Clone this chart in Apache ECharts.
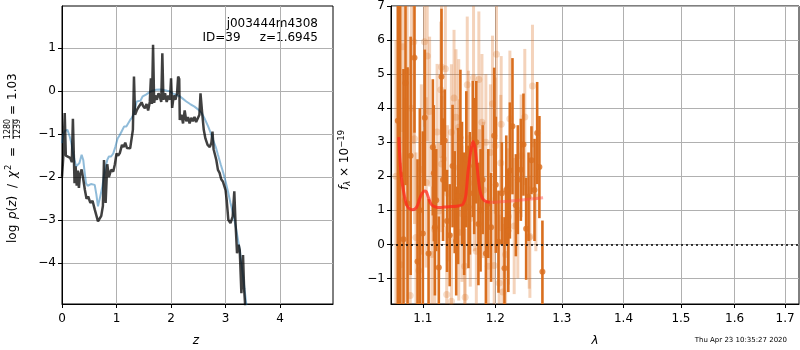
<!DOCTYPE html>
<html>
<head>
<meta charset="utf-8">
<script src="https://cdn.jsdelivr.net/npm/echarts@6/dist/echarts.min.js"></script>
<style>html,body{margin:0;padding:0;background:#fff}#c{width:800px;height:350px}</style>
</head>
<body>
<div id="c"></div>
<script>
// ---------- Left panel: log p(z) ----------
const zDark = [0,0.02,0.05,0.07,0.1,0.15,0.18,0.2,0.23,0.25,0.27,0.29,0.31,0.33,0.36,0.39,0.42,0.45,0.48,0.52,0.56,0.6,0.63,0.66,0.69,0.72,0.75,0.77,0.8,0.83,0.86,0.9,0.94,0.97,1.0,1.03,1.06,1.1,1.13,1.16,1.19,1.22,1.25,1.28,1.3,1.32,1.34,1.37,1.4,1.43,1.46,1.49,1.52,1.55,1.58,1.61,1.63,1.65,1.67,1.69,1.71,1.74,1.77,1.8,1.82,1.84,1.86,1.89,1.92,1.95,1.98,2.0,2.02,2.05,2.08,2.11,2.13,2.15,2.16,2.19,2.22,2.25,2.28,2.31,2.34,2.37,2.4,2.43,2.46,2.49,2.52,2.54,2.57,2.6,2.63,2.67,2.71,2.74,2.76,2.78,2.8,2.83,2.86,2.89,2.92,2.95,2.98,3.0,3.02,3.05,3.09,3.13,3.16,3.18,3.21,3.24,3.26,3.29,3.32,3.34,3.37];
const pDark = [-1.99,-1.6,-0.51,-1.5,-1.52,-1.55,-1.65,-0.64,-2.14,-1.75,-2.2,-1.85,-2.25,-1.95,-1.82,-2.05,-2.3,-2.5,-2.45,-2.6,-2.55,-2.75,-2.78,-3.03,-3.06,-2.9,-2.67,-1.6,-2.6,-1.7,-2.0,-1.83,-1.87,-1.7,-1.45,-1.5,-1.44,-1.25,-1.3,-1.2,-1.32,-1.28,-1.33,-1.3,-0.9,0.34,-0.55,-0.45,-0.38,-0.42,-0.26,-0.35,-0.4,-0.3,-0.45,-0.25,0.3,-0.3,1.08,-0.27,-0.1,-0.2,-0.05,-0.15,-0.25,0.88,-0.2,-0.05,-0.25,-0.1,-0.2,0.3,-0.39,-0.1,-0.2,-0.05,0.34,0.28,-0.67,-0.55,-0.75,-0.45,-0.7,-0.6,-0.75,-0.62,-0.7,-0.6,-0.72,-0.68,-0.55,-0.05,-0.5,-0.9,-1.1,-1.25,-1.3,-1.2,-0.94,-1.35,-1.45,-1.6,-1.83,-1.9,-2.05,-2.1,-2.14,-2.3,-2.53,-2.99,-3.07,-2.92,-2.33,-3.0,-3.77,-3.57,-3.7,-4.7,-3.81,-4.6,-5.2];
const zBlue = [0,0.03,0.06,0.1,0.14,0.17,0.2,0.23,0.26,0.29,0.32,0.36,0.39,0.41,0.44,0.47,0.5,0.53,0.56,0.6,0.63,0.66,0.68,0.71,0.74,0.77,0.8,0.83,0.86,0.9,0.94,0.98,1.02,1.06,1.1,1.14,1.18,1.21,1.25,1.28,1.31,1.34,1.37,1.4,1.44,1.48,1.54,1.6,1.66,1.72,1.79,1.86,1.93,1.97,2.03,2.1,2.16,2.22,2.28,2.35,2.43,2.5,2.56,2.62,2.68,2.73,2.77,2.82,2.86,2.91,2.96,3.0,3.05,3.09,3.14,3.2,3.26,3.32,3.38,3.42];
const pBlue = [-1.21,-0.98,-0.92,-0.9,-1.05,-1.2,-1.44,-1.6,-1.75,-1.72,-1.67,-1.48,-1.6,-1.83,-2.14,-2.2,-2.22,-2.16,-2.14,-2.18,-2.4,-2.68,-2.65,-2.4,-2.22,-1.95,-1.75,-1.6,-1.52,-1.52,-1.45,-1.29,-1.1,-1.02,-0.92,-0.82,-0.82,-0.78,-0.67,-0.62,-0.55,-0.4,-0.24,-0.2,-0.22,-0.12,-0.08,-0.03,0.01,0.03,0.04,0.03,0.01,0.0,-0.05,-0.09,-0.12,-0.18,-0.24,-0.3,-0.36,-0.43,-0.51,-0.65,-0.82,-0.98,-1.13,-1.3,-1.48,-1.7,-1.91,-2.1,-2.37,-2.6,-2.85,-3.25,-3.69,-4.3,-4.95,-5.3];

// ---------- Right panel: spectrum ----------
const lamDark  = [1.0674,1.0705,1.0747,1.0773,1.0800,1.0840,1.0890,1.0930,1.0960,1.1000,1.1026,1.1076,1.1133,1.1146,1.1160,1.1178,1.1213,1.1249,1.1270,1.1293,1.1325,1.1361,1.1400,1.1429,1.1450,1.1476,1.1508,1.1530,1.1560,1.1590,1.1620,1.1640,1.1680,1.1700,1.1730,1.1760,1.1790,1.1820,1.1866,1.1900,1.1940,1.1985,1.2008,1.2047,1.2096,1.2134,1.2160,1.2190,1.2213,1.2251,1.2301,1.2330,1.2375,1.2414,1.2454,1.2490,1.2534,1.2580,1.2620,1.2654,1.2700];
const fluxDark = [3.63,2.06,0.15,4.74,1.2,2.6,5.48,-0.5,1.0,0.32,3.72,-0.27,2.85,2.09,0.5,1.30,-0.68,4.92,1.9,3.05,0.69,0.27,2.3,1.24,0.1,1.42,3.13,1.8,0.9,2.5,1.1,1.5,2.8,2.3,3.0,0.6,1.0,1.9,-0.27,1.2,0.5,3.19,1.75,0.08,1.50,-0.70,1.6,0.4,2.17,3.47,1.15,1.9,2.19,2.93,0.46,1.4,2.47,1.6,3.27,2.27,-0.80];
const errDark  = [5.5,6.0,5.0,3.0,4.0,3.5,2.2,3.0,3.0,3.0,2.0,1.6,2.0,2.0,2.0,1.5,1.5,2.0,1.8,1.5,1.5,1.5,1.8,1.5,1.6,2.0,2.0,1.8,1.8,2.0,1.8,1.8,2.0,2.0,1.8,1.8,1.8,1.6,1.5,1.6,1.6,2.0,2.0,1.5,1.5,1.5,1.6,1.8,2.0,2.0,1.5,1.6,1.5,1.5,1.5,1.3,1.0,1.5,1.5,1.5,1.5];
const lamLight  = [1.0650,1.0710,1.0738,1.0770,1.0795,1.0834,1.0850,1.0881,1.0890,1.0910,1.0947,1.0980,1.1022,1.1045,1.1058,1.1090,1.1120,1.1159,1.1190,1.1213,1.1240,1.1249,1.1252,1.1275,1.1302,1.1320,1.1330,1.1384,1.1385,1.1420,1.1447,1.1485,1.1485,1.1490,1.1530,1.1567,1.1574,1.1603,1.1620,1.1645,1.1691,1.1700,1.1730,1.1766,1.1776,1.1810,1.1830,1.1866,1.1900,1.1930,1.1960,1.1985,1.2000,1.2018,1.2057,1.2080,1.2086,1.2110,1.2150,1.2192,1.2213,1.2276,1.2330,1.2380,1.2434,1.2500,1.2510,1.2549,1.2600];
const fluxLight = [2.0,-0.6,5.8,1.3,5.07,-1.5,4.0,5.95,3.1,0.2,-0.77,2.2,5.95,1.82,5.53,3.9,-0.3,0.44,3.3,0.98,4.54,5.21,2.36,2.51,5.16,-1.47,1.5,3.29,-1.67,4.3,3.73,3.44,0.35,2.26,0.9,-0.64,-1.55,4.69,3.1,0.76,4.89,1.8,-0.2,4.84,1.38,3.59,1.6,3.0,-0.64,2.7,4.13,-0.62,2.9,5.58,-1.13,2.39,3.53,-1.4,-0.3,0.82,3.69,0.54,1.0,2.6,3.74,0.2,0.23,4.65,1.4];
const errLight  = [4.0,3.0,2.5,3.0,2.0,2.5,3.0,3.0,2.5,2.5,2.5,2.5,2.5,2.5,2.5,2.2,2.0,2.5,2.0,2.0,2.0,2.0,2.0,2.0,2.0,2.0,2.0,2.0,2.0,2.0,2.0,2.0,2.0,2.0,2.0,2.0,2.0,2.0,2.0,2.0,2.5,2.0,2.0,2.0,2.0,2.0,2.0,2.0,2.0,2.0,2.0,2.0,2.0,2.5,2.0,2.0,2.0,2.0,2.0,2.0,2.0,2.0,2.0,1.8,2.0,1.5,1.8,1.8,1.6];
const lamModelA = [1.0687,1.0717,1.0760,1.0790,1.0825,1.0860,1.0890,1.0925,1.0956,1.0990,1.1023,1.1045,1.1067,1.1100,1.1134,1.1170,1.1201,1.1260,1.1315,1.1380,1.1452,1.1500,1.1543,1.1580,1.1613,1.1650,1.1683,1.1710,1.1731,1.1755,1.1778,1.1810,1.1849,1.1890,1.1920];
const fModelA   = [3.15,2.01,1.42,1.15,1.05,1.02,1.03,1.12,1.33,1.50,1.57,1.55,1.42,1.22,1.13,1.10,1.08,1.09,1.10,1.11,1.12,1.14,1.18,1.40,2.11,2.70,3.02,2.85,2.50,2.00,1.62,1.38,1.28,1.25,1.24];
const lamModelB = [1.1849,1.1920,1.2065,1.2260,1.2459,1.2710];
const fModelB   = [1.28,1.24,1.25,1.28,1.32,1.37];

const xTicksL = [0,1,2,3,4];
const yTicksL = [-4,-3,-2,-1,0,1];
const xTicksR = [1.1,1.2,1.3,1.4,1.5,1.6,1.7];
const yTicksR = [-1,0,1,2,3,4,5,6,7];

const FONT = 'DejaVu Sans';
const DARK = '#d96e1e';
const LIGHT = 'rgba(217,110,30,0.3)';
const fmt = v => (v < 0 ? '\u2212' + Math.abs(v) : String(v));
const zip = (a, b) => a.map((v, i) => [v, b[i]]);
const zip3 = (a, b, c) => a.map((v, i) => [v, b[i], c[i]]);

function errRender(color, width) {
  return function (params, api) {
    const x = api.value(0), y = api.value(1), e = api.value(2);
    const p1 = api.coord([x, y - e]);
    const p2 = api.coord([x, y + e]);
    return { type: 'line', shape: { x1: p1[0], y1: p1[1], x2: p2[0], y2: p2[1] },
      style: { stroke: color, lineWidth: width } };
  };
}

function mkAxis(extra, ticks, margin) {
  return Object.assign({}, extra, {
    axisLine: { show: true, onZero: false, lineStyle: { color: '#000', width: 1 } },
    axisTick: { show: true, length: 4, lineStyle: { color: '#000' }, customValues: ticks },
    axisLabel: { color: '#000', fontFamily: FONT, fontSize: 12, margin: margin, customValues: ticks, formatter: fmt },
    splitLine: { show: true, lineStyle: { color: '#b0b0b0', width: 1 } }
  });
}

const F = s => s + 'px "DejaVu Sans"';
const txt = (x, y, text, font, align) => ({ type: 'text', x, y,
  style: { text, font, fill: '#000', align: align || 'left', verticalAlign: 'middle' } });

const chart = echarts.init(document.getElementById('c'), null, { renderer: 'canvas' });
chart.setOption({
  animation: false,
  backgroundColor: '#fff',
  grid: [
    { left: 62, top: 6, width: 271, height: 298, show: true, borderColor: '#000', borderWidth: 1, backgroundColor: 'transparent' },
    { left: 391, top: 6, width: 408, height: 298, show: true, borderColor: '#000', borderWidth: 1, backgroundColor: 'transparent' }
  ],
  xAxis: [
    mkAxis({ type: 'value', gridIndex: 0, min: 0, max: 4.97, interval: 1 }, xTicksL, 9),
    mkAxis({ type: 'log', logBase: 10, gridIndex: 1, min: 1.0587, max: 1.7287 }, xTicksR, 9)
  ],
  yAxis: [
    mkAxis({ type: 'value', gridIndex: 0, min: -4.95, max: 1.98, interval: 1 }, yTicksL, 6),
    mkAxis({ type: 'value', gridIndex: 1, min: -1.75, max: 7, interval: 1 }, yTicksR, 6)
  ],
  series: [
    { type: 'line', xAxisIndex: 0, yAxisIndex: 0, data: zip(zBlue, pBlue), showSymbol: false,
      lineStyle: { color: 'rgba(31,119,180,0.5)', width: 2 }, z: 3 },
    { type: 'line', xAxisIndex: 0, yAxisIndex: 0, data: zip(zDark, pDark), showSymbol: false,
      lineStyle: { color: 'rgba(0,0,0,0.75)', width: 2.5 }, z: 4 },

    { type: 'custom', xAxisIndex: 1, yAxisIndex: 1, clip: true, renderItem: errRender(LIGHT, 3),
      encode: { x: 0, y: 1 }, data: zip3(lamLight, fluxLight, errLight), z: 3 },
    { type: 'scatter', xAxisIndex: 1, yAxisIndex: 1, data: zip(lamLight, fluxLight), symbolSize: 7,
      itemStyle: { color: LIGHT }, z: 3 },
    { type: 'custom', xAxisIndex: 1, yAxisIndex: 1, clip: true, renderItem: errRender(DARK, 2.6),
      encode: { x: 0, y: 1 }, data: zip3(lamDark, fluxDark, errDark), z: 4 },
    { type: 'scatter', xAxisIndex: 1, yAxisIndex: 1, data: zip(lamDark, fluxDark), symbolSize: 6,
      itemStyle: { color: DARK }, z: 4 },
    { type: 'line', xAxisIndex: 1, yAxisIndex: 1, data: zip(lamModelB, fModelB), showSymbol: false, smooth: true,
      lineStyle: { color: 'rgba(255,70,70,0.45)', width: 3 }, z: 5 },
    { type: 'line', xAxisIndex: 1, yAxisIndex: 1, data: zip(lamModelA, fModelA), showSymbol: false, smooth: 0.3,
      lineStyle: { color: 'rgba(255,40,30,0.75)', width: 3 }, z: 6,
      markLine: { silent: true, symbol: 'none', label: { show: false },
        lineStyle: { color: '#000', type: [2, 3], width: 1.5 }, data: [{ yAxis: 0 }] } }
  ],
  graphic: [
    txt(318, 24, 'j003444m4308', F(12), 'right'),
    txt(318, 38, 'ID=39     z=1.6945', F(12), 'right'),
    txt(196, 341, 'z', 'italic ' + F(12), 'center'),
    txt(595, 341, 'λ', 'italic ' + F(12), 'center'),
    txt(787, 340, 'Thu Apr 23 10:35:27 2020', F(7), 'right'),
    { type: 'group', x: 13, y: 157, rotation: Math.PI / 2, children: [
      txt(-86, 0, 'log', F(12)),
      { type: 'text', x: -62, y: 0, style: { text: '{i|p}{n|(}{i|z}{n|)}',
        rich: { n: { font: F(12), fill: '#000' }, i: { font: 'italic ' + F(12), fill: '#000' } },
        align: 'left', verticalAlign: 'middle' } },
      txt(-29, 0, '/', F(12), 'center'),
      txt(-21, 0, 'χ', 'italic ' + F(12)),
      txt(-13, -4, '2', F(8.5)),
      txt(5, 0, '=', F(12), 'center'),
      txt(28, -5, '1280', F(8), 'center'),
      { type: 'line', shape: { x1: 18, y1: 0, x2: 38, y2: 0 }, style: { stroke: '#000', lineWidth: 0.8 } },
      txt(28, 5, '1239', F(8), 'center'),
      txt(47, 0, '=', F(12), 'center'),
      txt(57, 0, '1.03', F(12))
    ] },
    { type: 'group', x: 345, y: 160, rotation: Math.PI / 2, children: [
      { type: 'text', x: 0, y: 0, style: {
        text: '{i|f}{sub|λ}{n| × 10}{sup|−19}',
        rich: { n: { font: F(12), fill: '#000' }, i: { font: 'italic ' + F(12), fill: '#000' },
                sub: { font: 'italic ' + F(8.5), fill: '#000', padding: [6, 0, 0, 0] },
                sup: { font: F(8.5), fill: '#000', padding: [0, 0, 7, 0] } },
        align: 'center', verticalAlign: 'middle' } }
    ] }
  ]
});
</script>
</body>
</html>
